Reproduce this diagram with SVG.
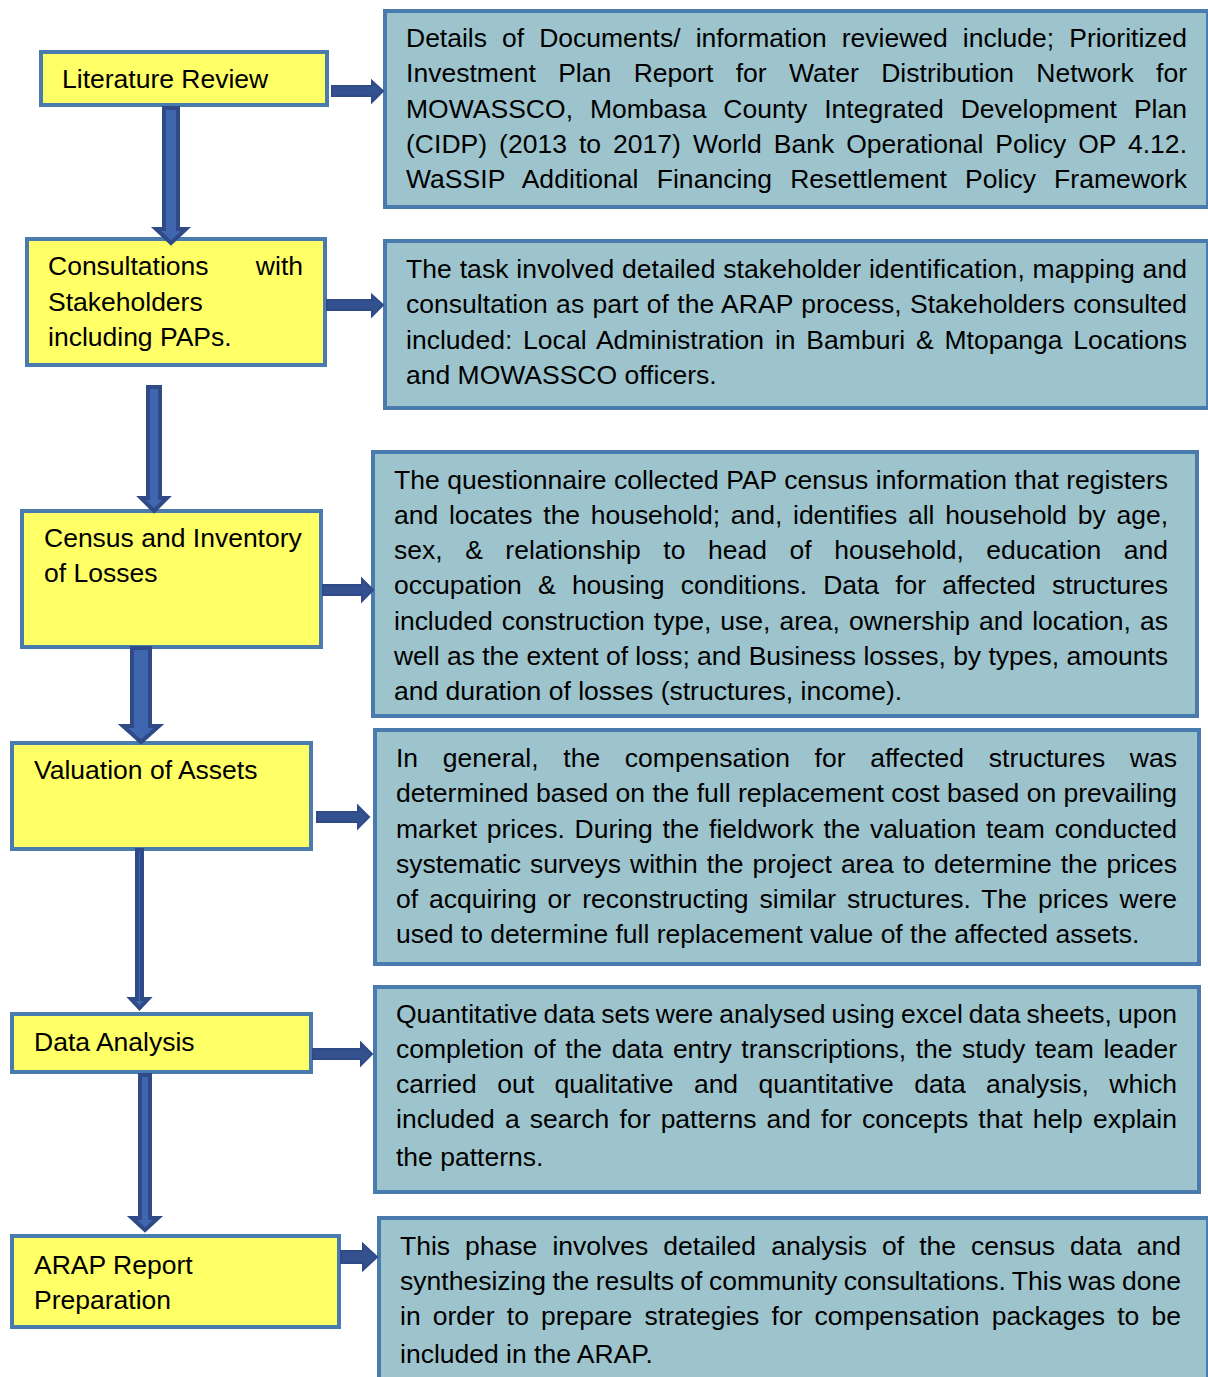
<svg xmlns="http://www.w3.org/2000/svg" width="1208" height="1377" viewBox="0 0 1208 1377">
<style>
.y{fill:#FFFF66;stroke:#4A7BAF;stroke-width:4}
.b{fill:#9DC4CD;stroke:#4A7BAF;stroke-width:4}
.t{font-family:"Liberation Sans",Arial,sans-serif;font-size:26.5px;fill:#000}
.a{fill:#4166B0;stroke:#2F4A86;stroke-width:4;stroke-linejoin:miter}
.h{fill:#33508F;stroke:#2F4A86;stroke-width:2}
</style>
<rect width="1208" height="1377" fill="#fff"/>
<g id="n1">
<rect class="y" x="41" y="52" width="286" height="53"/>
<text class="t" x="62" y="88">Literature Review</text>
</g>
<g id="n2">
<rect class="y" x="27" y="239" width="298" height="126"/>
<text class="t" x="48" y="275">Consultations</text>
<text class="t" x="303" y="275" text-anchor="end">with</text>
<text class="t" x="48" y="311">Stakeholders</text>
<text class="t" x="48" y="346">including PAPs.</text>
</g>
<g id="n3">
<rect class="y" x="22" y="511" width="299" height="136"/>
<text class="t" x="44" y="547">Census and Inventory</text>
<text class="t" x="44" y="582">of Losses</text>
</g>
<g id="n4">
<rect class="y" x="12" y="743" width="299" height="106"/>
<text class="t" x="34" y="779">Valuation of Assets</text>
</g>
<g id="n5">
<rect class="y" x="12" y="1014" width="299" height="58"/>
<text class="t" x="34" y="1051">Data Analysis</text>
</g>
<g id="n6">
<rect class="y" x="12" y="1236" width="327" height="91"/>
<text class="t" x="34" y="1274">ARAP Report</text>
<text class="t" x="34" y="1309">Preparation</text>
</g>
<g id="d1">
<rect class="b" x="385" y="11" width="823" height="196"/>
<text class="t" x="406" y="47" word-spacing="7.7" textLength="781" lengthAdjust="spacing">Details of Documents/ information reviewed include; Prioritized</text>
<text class="t" x="406" y="82" word-spacing="15" textLength="781" lengthAdjust="spacing">Investment Plan Report for Water Distribution Network for</text>
<text class="t" x="406" y="118" word-spacing="9.5" textLength="781" lengthAdjust="spacing">MOWASSCO, Mombasa County Integrated Development Plan</text>
<text class="t" x="406" y="153" word-spacing="4.6" textLength="781" lengthAdjust="spacing">(CIDP) (2013 to 2017) World Bank Operational Policy OP 4.12.</text>
<text class="t" x="406" y="188" word-spacing="10.7" textLength="781" lengthAdjust="spacing">WaSSIP Additional Financing Resettlement Policy Framework</text>
</g>
<g id="d2">
<rect class="b" x="385" y="241" width="823" height="167"/>
<text class="t" x="406" y="278" word-spacing="0.3" textLength="781" lengthAdjust="spacing">The task involved detailed stakeholder identification, mapping and</text>
<text class="t" x="406" y="313" word-spacing="1" textLength="781" lengthAdjust="spacing">consultation as part of the ARAP process, Stakeholders consulted</text>
<text class="t" x="406" y="349" word-spacing="3.4" textLength="781" lengthAdjust="spacing">included: Local Administration in Bamburi &amp; Mtopanga Locations</text>
<text class="t" x="406" y="384">and MOWASSCO officers.</text>
</g>
<g id="d3">
<rect class="b" x="373" y="452" width="824" height="264"/>
<text class="t" x="394" y="489" textLength="774" lengthAdjust="spacing">The questionnaire collected PAP census information that registers</text>
<text class="t" x="394" y="524" word-spacing="3.5" textLength="774" lengthAdjust="spacing">and locates the household; and, identifies all household by age,</text>
<text class="t" x="394" y="559" word-spacing="15.2" textLength="774" lengthAdjust="spacing">sex, &amp; relationship to head of household, education and</text>
<text class="t" x="394" y="594" word-spacing="8.9" textLength="774" lengthAdjust="spacing">occupation &amp; housing conditions. Data for affected structures</text>
<text class="t" x="394" y="630" word-spacing="1.7" textLength="774" lengthAdjust="spacing">included construction type, use, area, ownership and location, as</text>
<text class="t" x="394" y="665" textLength="774" lengthAdjust="spacing">well as the extent of loss; and Business losses, by types, amounts</text>
<text class="t" x="394" y="700">and duration of losses (structures, income).</text>
</g>
<g id="d4">
<rect class="b" x="375" y="730" width="824" height="234"/>
<text class="t" x="396" y="767" word-spacing="17.3" textLength="781" lengthAdjust="spacing">In general, the compensation for affected structures was</text>
<text class="t" x="396" y="802" textLength="781" lengthAdjust="spacing">determined based on the full replacement cost based on prevailing</text>
<text class="t" x="396" y="838" word-spacing="2.4" textLength="781" lengthAdjust="spacing">market prices. During the fieldwork the valuation team conducted</text>
<text class="t" x="396" y="873" word-spacing="1.7" textLength="781" lengthAdjust="spacing">systematic surveys within the project area to determine the prices</text>
<text class="t" x="396" y="908" word-spacing="3.6" textLength="781" lengthAdjust="spacing">of acquiring or reconstructing similar structures. The prices were</text>
<text class="t" x="396" y="943">used to determine full replacement value of the affected assets.</text>
</g>
<g id="d5">
<rect class="b" x="375" y="987" width="824" height="205"/>
<text class="t" x="396" y="1023" word-spacing="-1.3" textLength="781" lengthAdjust="spacing">Quantitative data sets were analysed using excel data sheets, upon</text>
<text class="t" x="396" y="1058" word-spacing="2.3" textLength="781" lengthAdjust="spacing">completion of the data entry transcriptions, the study team leader</text>
<text class="t" x="396" y="1093" word-spacing="13.1" textLength="781" lengthAdjust="spacing">carried out qualitative and quantitative data analysis, which</text>
<text class="t" x="396" y="1128" word-spacing="2.8" textLength="781" lengthAdjust="spacing">included a search for patterns and for concepts that help explain</text>
<text class="t" x="396" y="1166">the patterns.</text>
</g>
<g id="d6">
<rect class="b" x="379" y="1218" width="829" height="172"/>
<text class="t" x="400" y="1255" word-spacing="7.7" textLength="781" lengthAdjust="spacing">This phase involves detailed analysis of the census data and</text>
<text class="t" x="400" y="1290" word-spacing="-0.9" textLength="781" lengthAdjust="spacing">synthesizing the results of community consultations. This was done</text>
<text class="t" x="400" y="1325" word-spacing="4.8" textLength="781" lengthAdjust="spacing">in order to prepare strategies for compensation packages to be</text>
<text class="t" x="400" y="1363">included in the ARAP.</text>
</g>
<g id="connectors">
<polygon class="a" points="164,108 178,108 178,229 186,229 171,243 156,229 164,229"/>
<polygon class="a" points="148,387 160,387 160,498 167,498 154,511 141,498 148,498"/>
<polygon class="a" points="132,648 150,648 150,726 159,726 141,742 123,726 132,726"/>
<polygon class="a" points="137,850 142,850 142,999 148,999 139.5,1008 131,999 137,999"/>
<polygon class="a" points="140,1075 150,1075 150,1218 158,1218 145,1230 132,1218 140,1218"/>
<polygon class="h" points="332,86 372,86 372,81 383,91 372,102 372,96 332,96"/>
<polygon class="h" points="327,300 372,300 372,295 383,305 372,316 372,310 327,310"/>
<polygon class="h" points="323,585 362,585 362,579 373,590 362,601 362,595 323,595"/>
<polygon class="h" points="317,812 358,812 358,806 369,817 358,828 358,822 317,822"/>
<polygon class="h" points="313,1049 361,1049 361,1043 372,1054 361,1065 361,1059 313,1059"/>
<polygon class="h" points="341,1251 363,1251 363,1244 377,1257 363,1270 363,1263 341,1263"/>
</g>
</svg>
